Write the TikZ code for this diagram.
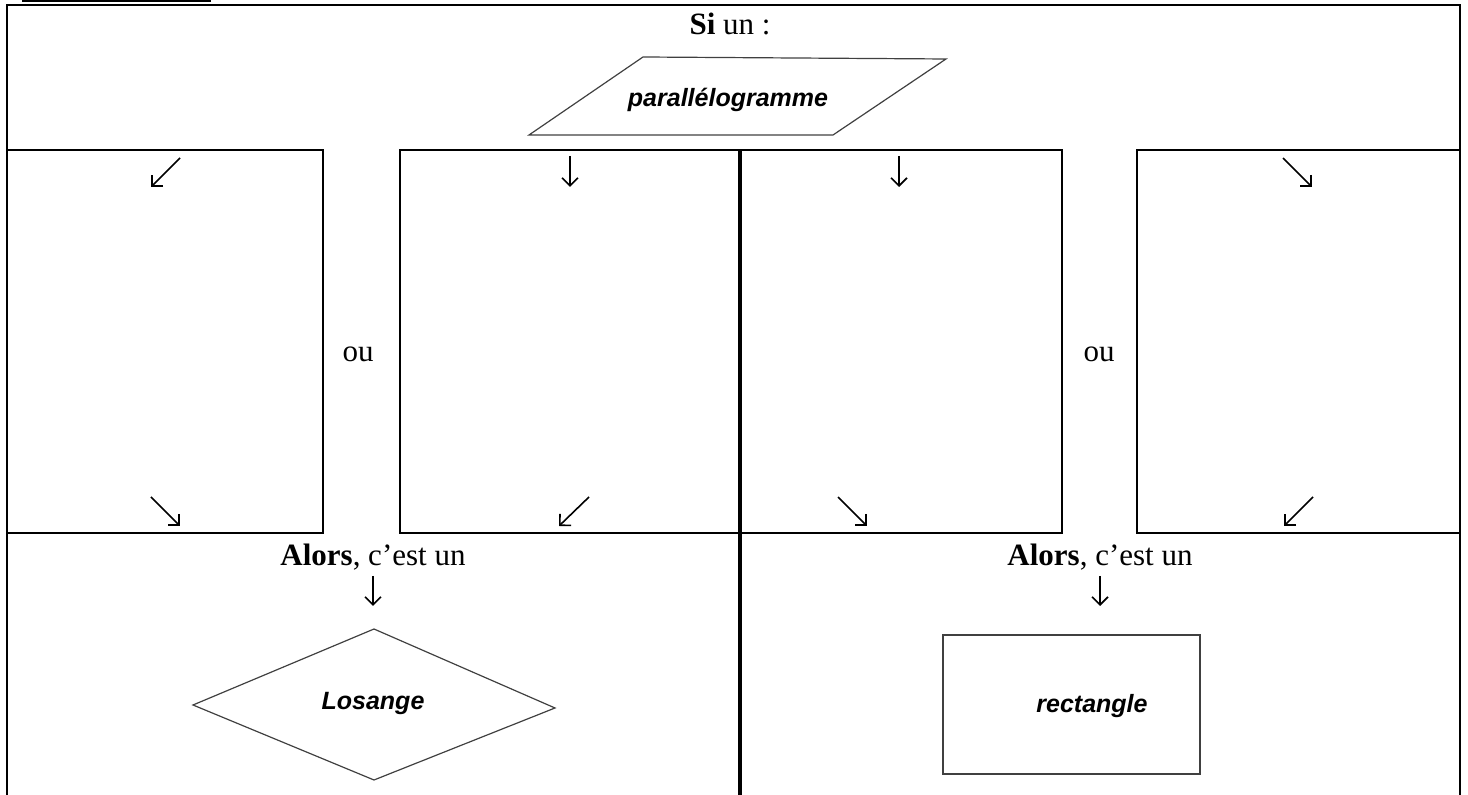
\documentclass[tikz,border=0pt]{standalone}
\usepackage{fontspec}
\setmainfont{Liberation Serif}
\newfontfamily\arialfont{Liberation Sans}
\usetikzlibrary{arrows.meta}
\begin{document}
\begin{tikzpicture}[x=0.5pt,y=-0.5pt,
  frame/.style={line width=1.3pt},
  cellbox/.style={line width=1.2pt},
  sepline/.style={line width=2.4pt},
  shapeline/.style={line width=0.6pt, draw=black!75},
  arr/.style={line width=0.8pt, -{Straight Barb[length=4pt,width=8pt,line width=0.8pt]}},
  lbl/.style={font=\fontsize{15.5}{18}\selectfont, inner sep=0pt},
  shapelbl/.style={font=\arialfont\bfseries\itshape\fontsize{12.5}{15}\selectfont, inner sep=0pt}
]
\useasboundingbox (0,0) rectangle (1468,795);
% partial heading underline at the top
\coordinate (ulA) at (22,1);
\coordinate (ulB) at (211,1);
\draw[line width=1.2pt] (ulA) -- (ulB);
% outer frame
\coordinate (fBL) at (7,795);
\coordinate (fTL) at (7,5);
\coordinate (fTR) at (1460,5);
\coordinate (fBR) at (1460,795);
\draw[frame] (fBL) -- (fTL) -- (fTR) -- (fBR);
% four condition boxes
\draw[cellbox] (7,150) rectangle (323,533);
\draw[cellbox] (400,150) rectangle (740,533);
\draw[cellbox] (740,150) rectangle (1062,533);
\draw[cellbox] (1137,150) rectangle (1460,533);
% thick separator
\coordinate (sepT) at (740,150);
\coordinate (sepB) at (740,795);
\draw[sepline] (sepT) -- (sepB);
% top text and parallelogram
\node[lbl, anchor=base] (si) at (730,35) {\textbf{Si} un :};
\draw[shapeline] (529,135) -- (643,57) -- (946,59) -- (833,135) -- cycle;
\node[shapelbl] (para) at (728,100) {parallélogramme};
% arrows in boxes
\coordinate (a1s) at (180,158); \coordinate (a1e) at (151,187);
\draw[arr] (a1s) -- (a1e);
\coordinate (a2s) at (151,497); \coordinate (a2e) at (180,526);
\draw[arr] (a2s) -- (a2e);
\coordinate (b1s) at (570,156); \coordinate (b1e) at (570,187);
\draw[arr] (b1s) -- (b1e);
\coordinate (b2s) at (589,497); \coordinate (b2e) at (559,526);
\draw[arr] (b2s) -- (b2e);
\coordinate (c1s) at (899,156); \coordinate (c1e) at (899,187);
\draw[arr] (c1s) -- (c1e);
\coordinate (c2s) at (838,497); \coordinate (c2e) at (867,526);
\draw[arr] (c2s) -- (c2e);
\coordinate (d1s) at (1283,158); \coordinate (d1e) at (1312,187);
\draw[arr] (d1s) -- (d1e);
\coordinate (d2s) at (1313,497); \coordinate (d2e) at (1284,526);
\draw[arr] (d2s) -- (d2e);
% ou
\node[lbl, anchor=base] (ou1) at (358,362) {ou};
\node[lbl, anchor=base] (ou2) at (1099,362) {ou};
% bottom row
\node[lbl, anchor=base] (alors1) at (373,566) {\textbf{Alors}, c’est un};
\node[lbl, anchor=base] (alors2) at (1100,566) {\textbf{Alors}, c’est un};
\coordinate (e1s) at (373,576); \coordinate (e1e) at (373,606);
\draw[arr] (e1s) -- (e1e);
\coordinate (e2s) at (1100,576); \coordinate (e2e) at (1100,606);
\draw[arr] (e2s) -- (e2e);
% diamond
\draw[shapeline] (193,705) -- (374,629) -- (555,708) -- (374,780) -- cycle;
\node[shapelbl] (los) at (373,703) {Losange};
% rectangle
\draw[shapeline] (943,635) rectangle (1200,774);
\node[shapelbl] (rect) at (1092,706) {rectangle};
\end{tikzpicture}
\end{document}
